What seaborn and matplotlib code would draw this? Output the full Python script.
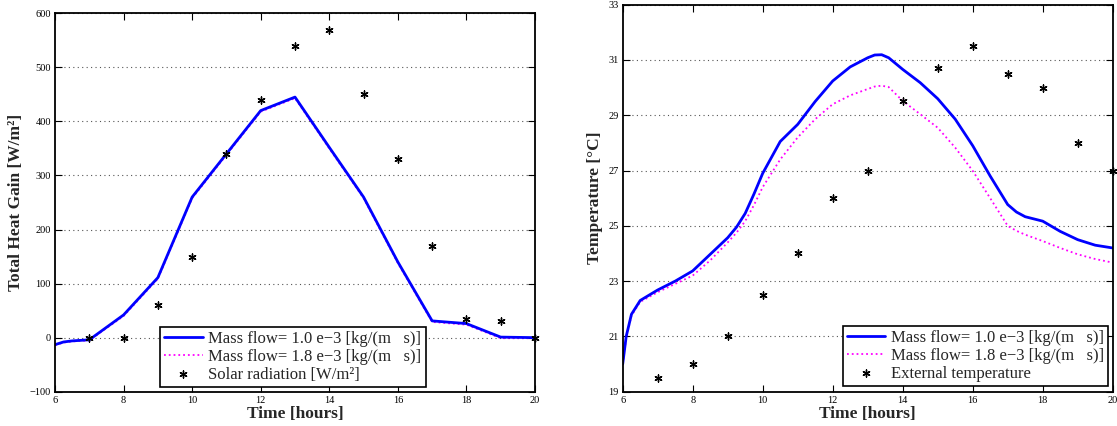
import matplotlib
matplotlib.use("Agg")
import matplotlib.pyplot as plt
import seaborn as sns
import pandas as pd

# ---------------- data ----------------
hours_left = [6, 6.25, 6.5, 7, 8, 9, 10, 11, 12, 13, 14, 15, 16, 17, 18, 19, 20]
gain_flow1 = [-13, -8, -6, -4, 42, 111, 260, 340, 420, 445, 352, 260, 140, 31, 26, 1, 0]
gain_flow2 = [-14, -9, -7, -5, 40, 109, 258, 338, 418, 443, 350, 258, 138, 29, 24, -1, -1]

solar_hours = [7, 8, 9, 10, 11, 12, 13, 14, 15, 16, 17, 18, 19, 20]
solar_rad = [0, 0, 60, 150, 340, 440, 540, 570, 450, 330, 170, 35, 30, 0]

hours_right = [6, 6.1, 6.25, 6.5, 7, 7.5, 8, 8.5, 9, 9.25, 9.5, 9.75, 10, 10.5, 11, 11.5, 12,
               12.5, 13, 13.2, 13.4, 13.6, 14, 14.5, 15, 15.5, 16, 16.5, 17, 17.25, 17.5,
               18, 18.5, 19, 19.5, 20]
temp_flow1 = [20.0, 21.0, 21.8, 22.3, 22.68, 23.0, 23.37, 23.97, 24.57, 24.95, 25.45, 26.15,
              26.9, 28.05, 28.67, 29.5, 30.24, 30.75, 31.08, 31.18, 31.19, 31.08, 30.66, 30.18,
              29.6, 28.86, 27.9, 26.8, 25.77, 25.5, 25.33, 25.17, 24.8, 24.5, 24.3, 24.2]
temp_flow2 = [20.0, 20.95, 21.75, 22.25, 22.6, 22.9, 23.2, 23.75, 24.4, 24.75, 25.17, 25.75,
              26.4, 27.4, 28.2, 28.86, 29.4, 29.72, 29.95, 30.04, 30.07, 30.02, 29.52, 29.04,
              28.55, 27.83, 26.99, 26.0, 25.0, 24.82, 24.68, 24.45, 24.2, 23.97, 23.8, 23.67]

ext_hours = [7, 8, 9, 10, 11, 12, 13, 14, 15, 16, 17, 18, 19, 20]
ext_temp = [19.5, 20, 21, 22.5, 24, 26, 27, 29.5, 30.7, 31.5, 30.5, 30, 28, 27]

label_flow1 = "Mass flow= 1.0 e\u22123 [kg/(m   s)]"
label_flow2 = "Mass flow= 1.8 e\u22123 [kg/(m   s)]"

# ---------------- style ----------------
sns.set_style("ticks")
plt.rcParams["font.family"] = ["Liberation Serif", "DejaVu Serif"]

W, H = 1117, 426
fig = plt.figure(figsize=(W / 100, H / 100), dpi=100)


def px_axes(x0, y0, x1, y1):
    return fig.add_axes([x0 / W, 1 - y1 / H, (x1 - x0) / W, (y1 - y0) / H])


ax1 = px_axes(55, 13.3, 535, 391.7)
ax2 = px_axes(622.7, 4.7, 1112.7, 391.7)

asterisk = (6, 2, 0)


def style_axes(ax):
    ax.set_axisbelow(True)
    ax.yaxis.grid(True, linestyle=(0, (1, 3)), color="#555555", linewidth=0.8)
    ax.xaxis.grid(False)
    for sp in ax.spines.values():
        sp.set_visible(True)
        sp.set_color("black")
        sp.set_linewidth(1.3)
    ax.tick_params(direction="in", top=True, right=True, length=5, width=0.8,
                   labelsize=7.5, pad=3, colors="black")
    ax.set_xlim(6, 20)
    ax.set_xticks(range(6, 21, 2))
    ax.set_xlabel("Time [hours]", fontsize=12.5, fontweight="bold", labelpad=1)


def make_legend(ax, **kw):
    h, l = ax.get_legend_handles_labels()
    order = [1, 0, 2]
    leg = ax.legend([h[i] for i in order], [l[i] for i in order], fontsize=12,
                    frameon=True, fancybox=False, framealpha=1, edgecolor="black",
                    handlelength=2.3, handletextpad=0.35, labelspacing=0.12,
                    borderpad=0.25, **kw)
    leg.get_frame().set_linewidth(1.2)
    return leg


# ---------- left panel ----------
df_l1 = pd.DataFrame({"h": hours_left, "v": gain_flow1})
df_l2 = pd.DataFrame({"h": hours_left, "v": gain_flow2})
df_sol = pd.DataFrame({"h": solar_hours, "v": solar_rad})

sns.lineplot(data=df_l2, x="h", y="v", ax=ax1, color="magenta", linestyle=":",
             linewidth=1.3, label=label_flow2, sort=False, estimator=None)
sns.lineplot(data=df_l1, x="h", y="v", ax=ax1, color="blue", linewidth=2,
             label=label_flow1, sort=False, estimator=None)
sns.scatterplot(data=df_sol, x="h", y="v", ax=ax1, marker=asterisk, color="black",
                edgecolor="black", s=26, linewidth=1, label="Solar radiation [W/m\u00b2]",
                zorder=5, clip_on=False)
style_axes(ax1)
ax1.set_ylim(-100, 600)
ax1.set_yticks(range(-100, 601, 100))
ax1.set_yticklabels(["\u2212100"] + [str(v) for v in range(0, 601, 100)])
ax1.set_ylabel("Total Heat Gain [W/m\u00b2]", fontsize=12.5, fontweight="bold", labelpad=4)
make_legend(ax1, loc="lower left", bbox_to_anchor=(0.219, 0.0124), borderaxespad=0)

# ---------- right panel ----------
df_r1 = pd.DataFrame({"h": hours_right, "v": temp_flow1})
df_r2 = pd.DataFrame({"h": hours_right, "v": temp_flow2})
df_ext = pd.DataFrame({"h": ext_hours, "v": ext_temp})

sns.lineplot(data=df_r2, x="h", y="v", ax=ax2, color="magenta", linestyle=":",
             linewidth=1.3, label=label_flow2, sort=False, estimator=None)
sns.lineplot(data=df_r1, x="h", y="v", ax=ax2, color="blue", linewidth=2,
             label=label_flow1, sort=False, estimator=None)
sns.scatterplot(data=df_ext, x="h", y="v", ax=ax2, marker=asterisk, color="black",
                edgecolor="black", s=26, linewidth=1, label="External temperature",
                zorder=5, clip_on=False)
style_axes(ax2)
ax2.set_ylim(19, 33)
ax2.set_yticks(range(19, 34, 2))
ax2.set_ylabel("Temperature [\u00b0C]", fontsize=12.5, fontweight="bold", labelpad=4)
make_legend(ax2, loc="lower right", bbox_to_anchor=(0.9908, 0.0148), borderaxespad=0)

fig.savefig("out.png", dpi=100)
